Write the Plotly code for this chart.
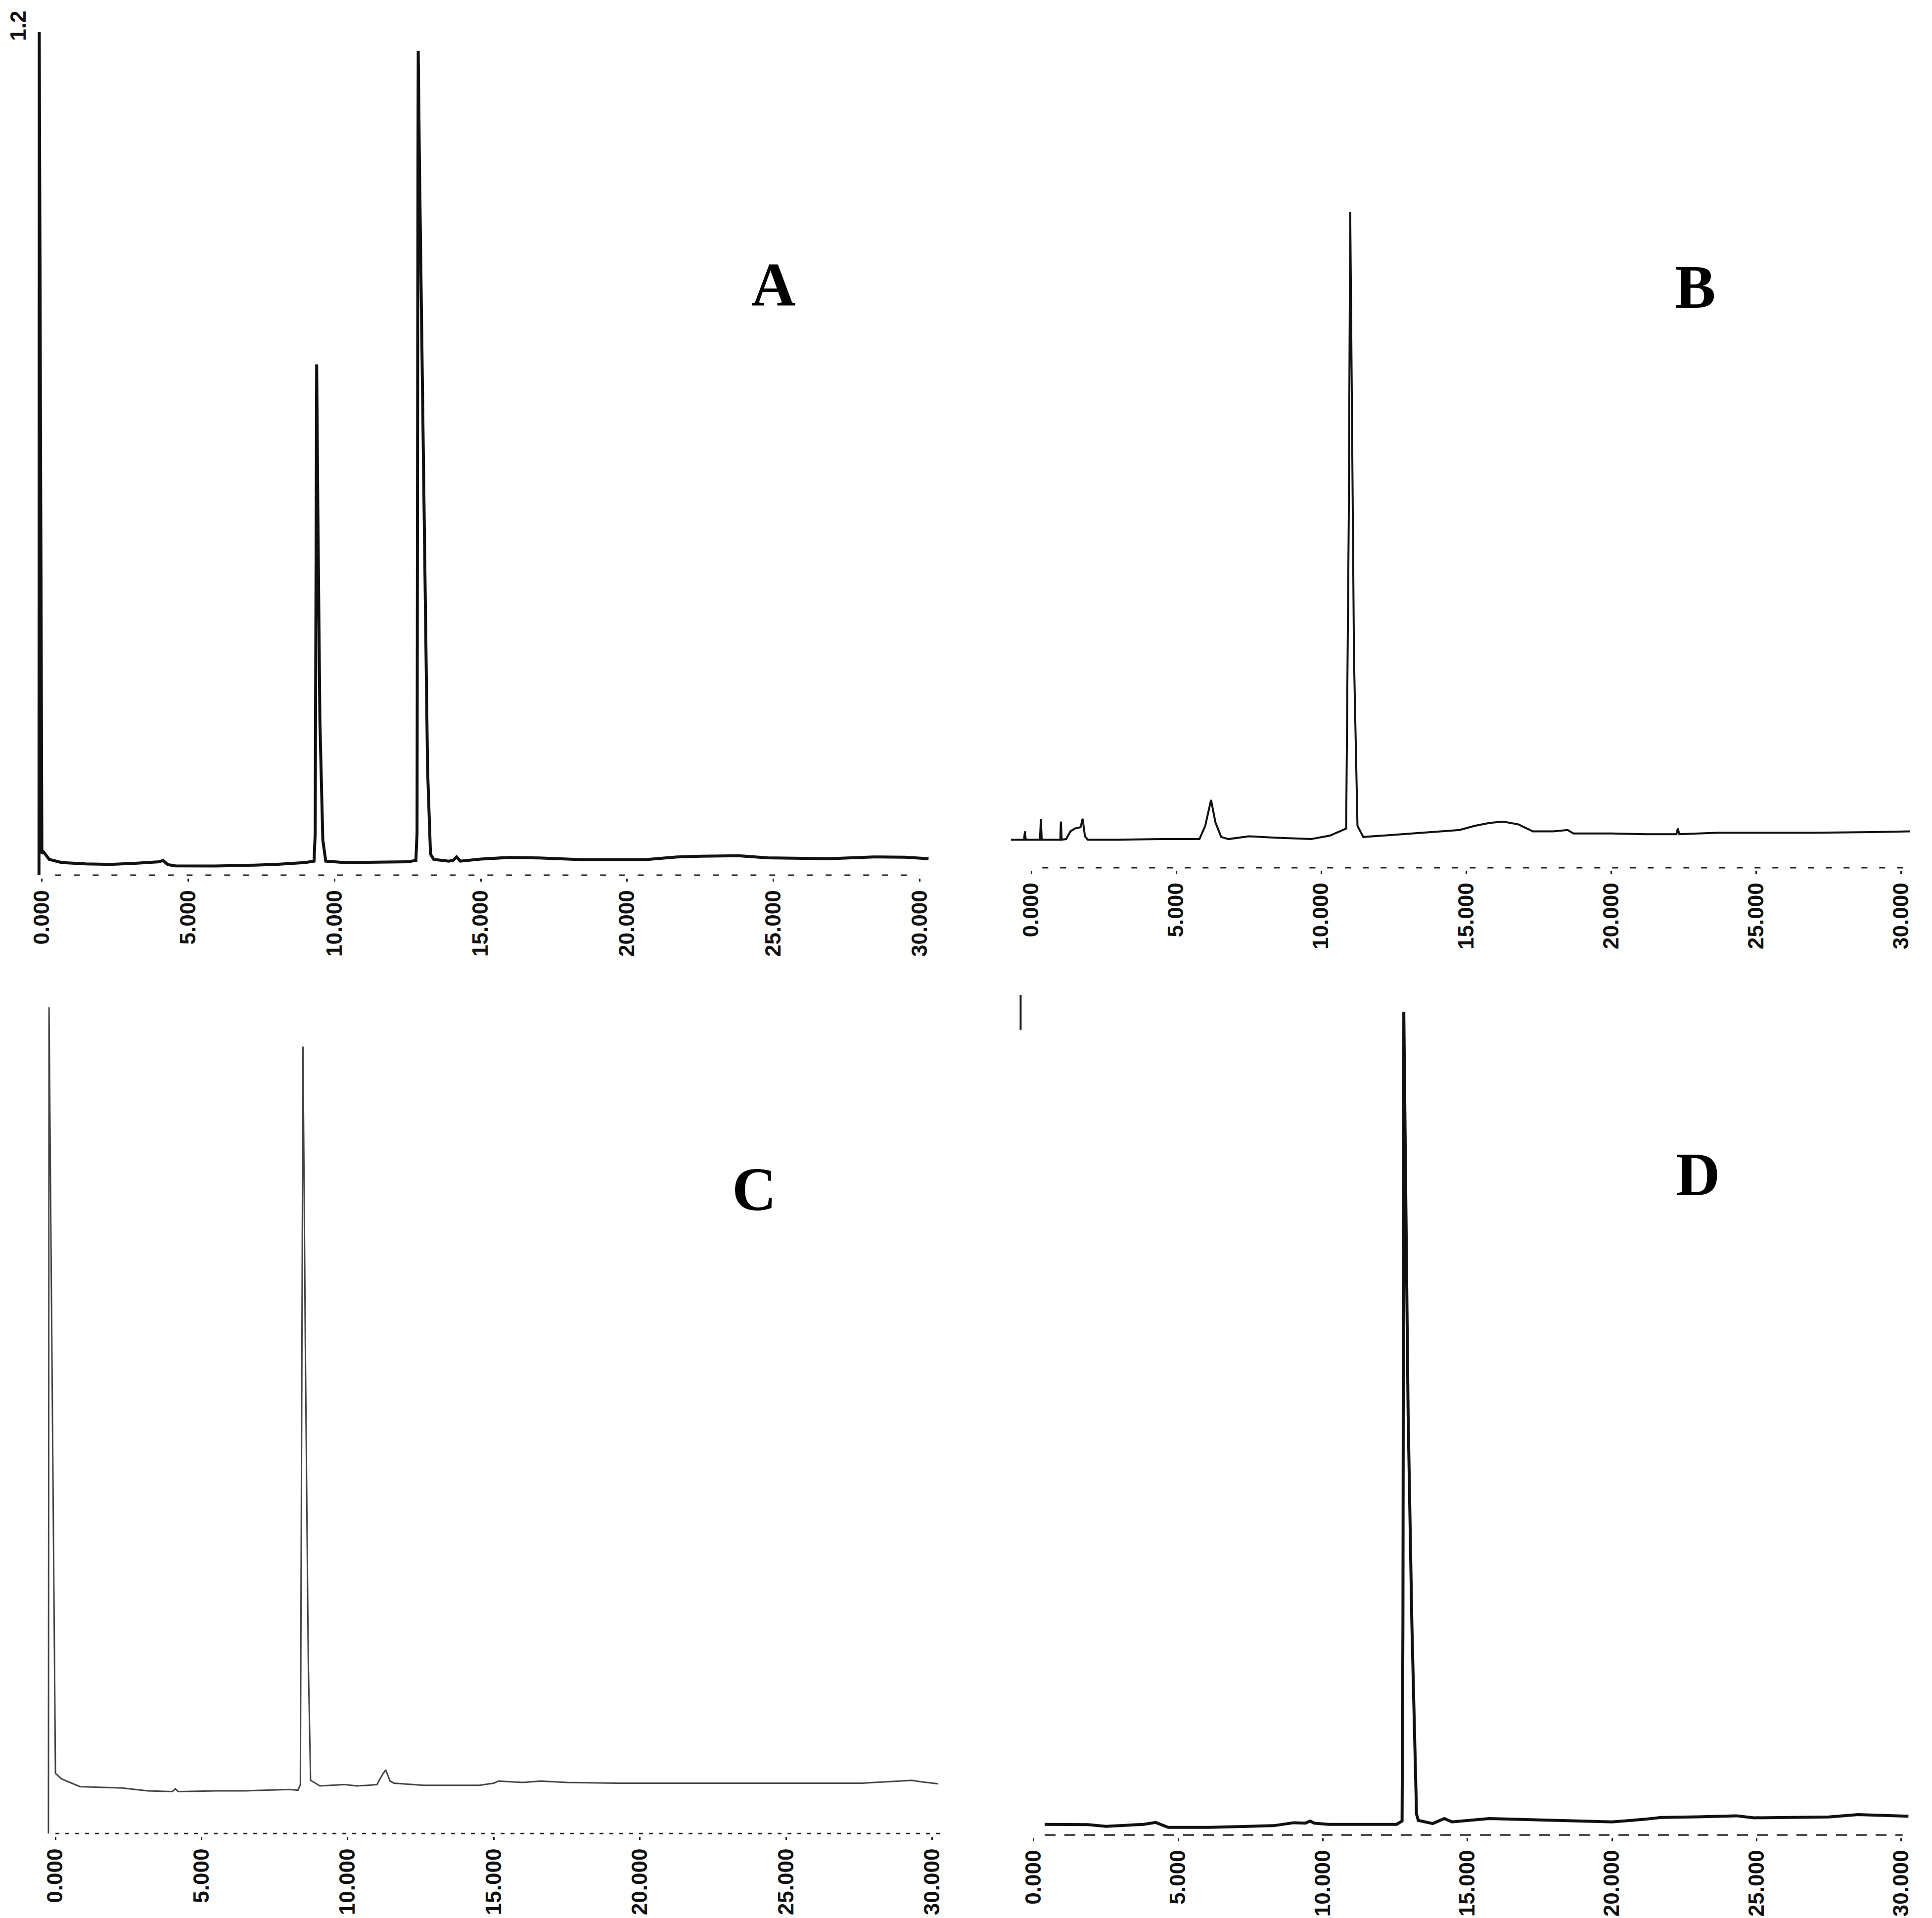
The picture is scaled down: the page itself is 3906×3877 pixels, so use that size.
import plotly.graph_objects as go

# ---------------- data ----------------
time_ticks = [0, 5, 10, 15, 20, 25, 30]
time_tick_labels = ["0.000", "5.000", "10.000", "15.000", "20.000", "25.000", "30.000"]
panel_names = ["A", "B", "C", "D"]
a_top_label = "1.2"

a_time = [-0.10, -0.09, 0.00, 0.06, 0.25, 0.67, 1.5, 2.35, 3.2, 4.0, 4.14, 4.3, 4.56, 5.9, 7.0, 8.0,
          9.0, 9.30, 9.34, 9.37, 9.39, 9.43, 9.50, 9.60, 9.70, 10.34, 11.5, 12.5, 12.78, 12.82, 12.85,
          12.86, 12.90, 13.05, 13.18, 13.28, 13.39, 13.9, 14.05, 14.17, 14.30, 15.0, 16.0, 17.0, 18.5,
          20.6, 21.7, 22.5, 23.8, 24.8, 26.0, 26.9, 28.4, 29.5, 30.3]
a_signal = [0.000, 1.200, 0.031, 0.033, 0.0225, 0.018, 0.016, 0.0154, 0.017, 0.019, 0.021, 0.015,
            0.0132, 0.013, 0.014, 0.0154, 0.018, 0.020, 0.060, 0.600, 0.727, 0.520, 0.220, 0.050,
            0.020, 0.018, 0.018, 0.019, 0.021, 0.060, 1.000, 1.173, 1.020, 0.520, 0.150, 0.030,
            0.0225, 0.020, 0.021, 0.026, 0.020, 0.023, 0.0253, 0.0245, 0.0221, 0.0221, 0.026, 0.027,
            0.0277, 0.0247, 0.024, 0.0235, 0.026, 0.0255, 0.0235]

b_time = [-0.70, -0.25, -0.22, -0.19, 0.30, 0.33, 0.36, 1.00, 1.02, 1.05, 1.20, 1.35, 1.50, 1.70,
          1.77, 1.85, 1.95, 3.0, 4.5, 5.8, 6.0, 6.2, 6.35, 6.55, 6.8, 7.5, 8.4, 9.65, 10.3, 10.86,
          10.95, 11.00, 11.05, 11.13, 11.25, 11.45, 12.5, 13.5, 14.77, 15.3, 15.8, 16.26, 16.8, 17.3,
          18.0, 18.5, 18.7, 20.0, 21.2, 22.25, 22.3, 22.35, 23.7, 25.0, 27.0, 29.0, 30.3]
b_signal = [0.040, 0.040, 0.052, 0.040, 0.040, 0.070, 0.040, 0.040, 0.066, 0.040, 0.041, 0.052,
            0.056, 0.058, 0.070, 0.045, 0.040, 0.040, 0.041, 0.041, 0.060, 0.097, 0.065, 0.044,
            0.041, 0.045, 0.043, 0.041, 0.046, 0.056, 0.500, 0.937, 0.700, 0.300, 0.060, 0.044,
            0.047, 0.050, 0.054, 0.060, 0.064, 0.066, 0.062, 0.052, 0.052, 0.054, 0.049, 0.049,
            0.048, 0.048, 0.056, 0.048, 0.050, 0.050, 0.050, 0.051, 0.052]

c_time = [-0.24, -0.22, 0.00, 0.21, 0.84, 2.3, 3.16, 4.0, 4.1, 4.2, 5.5, 6.5, 8.0, 8.3, 8.38, 8.42,
          8.47, 8.55, 8.65, 8.73, 9.05, 9.9, 10.3, 10.7, 11.0, 11.2, 11.3, 11.45, 11.58, 12.6, 14.5,
          15.0, 15.16, 16.0, 16.6, 17.5, 19.2, 23.4, 27.6, 29.3, 29.6, 30.2]
c_signal = [0.000, 1.180, 0.086, 0.078, 0.067, 0.065, 0.061, 0.060, 0.064, 0.060, 0.061, 0.061,
            0.063, 0.062, 0.070, 0.600, 1.124, 0.700, 0.250, 0.076, 0.068, 0.070, 0.068, 0.069,
            0.070, 0.085, 0.091, 0.075, 0.072, 0.069, 0.069, 0.072, 0.075, 0.073, 0.075, 0.073,
            0.072, 0.072, 0.072, 0.076, 0.074, 0.071]

d_time = [0.38, 1.0, 1.88, 2.5, 3.2, 3.8, 4.22, 4.45, 4.65, 6.1, 7.2, 8.3, 9.0, 9.4, 9.56, 9.7,
          10.2, 11.5, 12.55, 12.74, 12.77, 12.80, 12.86, 12.95, 13.08, 13.18, 13.24, 13.3, 13.8,
          14.2, 14.47, 15.75, 17.9, 20.0, 21.1, 21.7, 23.0, 24.3, 24.9, 26.0, 27.5, 28.5, 29.5, 30.25]
d_signal = [0.0153, 0.0155, 0.0148, 0.0125, 0.014, 0.0153, 0.018, 0.014, 0.011, 0.011, 0.012,
            0.0134, 0.0176, 0.017, 0.020, 0.017, 0.0153, 0.015, 0.0153, 0.020, 0.300, 1.176, 0.900,
            0.600, 0.300, 0.100, 0.030, 0.021, 0.0164, 0.0236, 0.0188, 0.0236, 0.0212, 0.0188,
            0.0224, 0.0252, 0.026, 0.0275, 0.0246, 0.0252, 0.0259, 0.0292, 0.028, 0.0269]
d_stub_time = [-0.45, -0.45]
d_stub_signal = [1.15, 1.20]

# extent of the dashed time axis drawn by the recorder in each panel
axis_spans = {"A": [0.45, 30.0], "B": [0.38, 30.1], "C": [0.0, 30.3], "D": [0.38, 30.05]}

# ---------------- layout geometry (preview pixel anchors) ----------------
W, H = 3906, 3877
PW, PH = 1568.0, 1556.0
PAGE_OFFSET = 8.0  # default body margin of the html page, in full pixels
X_RANGE = [-1.0, 31.0]
Y_RANGE = [-0.004, 1.22]
# (x pixel of t=0, pixels per minute, y pixel of signal 0, pixels per unit) in the preview
geom = {
    "A": (34.0, 23.75, 710.0, 570.0),
    "B": (837.0, 23.53, 704.0, 568.0),
    "C": (45.0, 23.72, 1487.5, 568.0),
    "D": (838.9, 23.47, 1488.7, 568.0),
}


def fx(xs):
    return (xs * W / PW - PAGE_OFFSET) / W


def fy(ys):
    return 1 - (ys * H / PH - PAGE_OFFSET) / H


def xdom(x0, ppm):
    return [fx(x0 + X_RANGE[0] * ppm), fx(x0 + X_RANGE[1] * ppm)]


def ydom(y0, ppu):
    return [fy(y0 - Y_RANGE[0] * ppu), fy(y0 - Y_RANGE[1] * ppu)]


series = {
    "A": (a_time, a_signal, dict(color="#111111", width=6)),
    "B": (b_time, b_signal, dict(color="#111111", width=4)),
    "C": (c_time, c_signal, dict(color="#444444", width=3)),
    "D": (d_time, d_signal, dict(color="#111111", width=6)),
}
axis_dash = {"A": "12px,26px", "B": "12px,24px", "C": "8px,12px", "D": "22px,18px"}

fig = go.Figure()
layout = dict(
    width=W, height=H, margin=dict(l=0, r=0, t=0, b=0),
    paper_bgcolor="white", plot_bgcolor="white", showlegend=False,
)

tick_font = dict(family="Liberation Sans, Arial, sans-serif", size=44, color="#111111",
                 weight="bold")

for i, name in enumerate(panel_names):
    idx = "" if i == 0 else str(i + 1)
    xa, ya = "x" + idx, "y" + idx
    x0, ppm, y0, ppu = geom[name]
    t, s, line = series[name]
    fig.add_trace(go.Scatter(x=t, y=s, mode="lines", line=line, xaxis=xa, yaxis=ya,
                             hoverinfo="skip"))
    span = axis_spans[name]
    fig.add_trace(go.Scatter(x=span, y=[0, 0], mode="lines", xaxis=xa, yaxis=ya,
                             line=dict(color="#222222", width=3, dash=axis_dash[name]),
                             hoverinfo="skip"))
    layout["xaxis" + idx] = dict(
        domain=xdom(x0, ppm), range=X_RANGE, anchor=ya,
        tickmode="array", tickvals=time_ticks, ticktext=time_tick_labels,
        tickangle=-90, tickfont=tick_font, ticks="outside", ticklen=6, tickwidth=3,
        tickcolor="#222222", showgrid=False, zeroline=False, showline=False,
    )
    layout["yaxis" + idx] = dict(
        domain=ydom(y0, ppu), range=Y_RANGE, anchor=xa,
        showticklabels=False, ticks="", showgrid=False, zeroline=False, showline=False,
    )

fig.add_trace(go.Scatter(x=d_stub_time, y=d_stub_signal, mode="lines", xaxis="x4", yaxis="y4",
                         line=dict(color="#222222", width=4), hoverinfo="skip"))

annotations = [
    dict(text=a_top_label, x=-0.81, y=1.209, xref="x", yref="y", showarrow=False,
         textangle=-90, font=tick_font, xanchor="center", yanchor="middle"),
]
letter_pos = {"A": (628, 231), "B": (1376, 233), "C": (612, 965), "D": (1378, 953)}
for name in panel_names:
    px, py = letter_pos[name]
    annotations.append(dict(
        text=name, x=fx(px), y=fy(py), xref="paper", yref="paper", showarrow=False,
        xanchor="center", yanchor="middle",
        font=dict(family="Liberation Serif, Times New Roman, serif", size=124, color="black",
                  weight="bold"),
    ))
layout["annotations"] = annotations

fig.update_layout(**layout)
fig.write_html("out.html")
